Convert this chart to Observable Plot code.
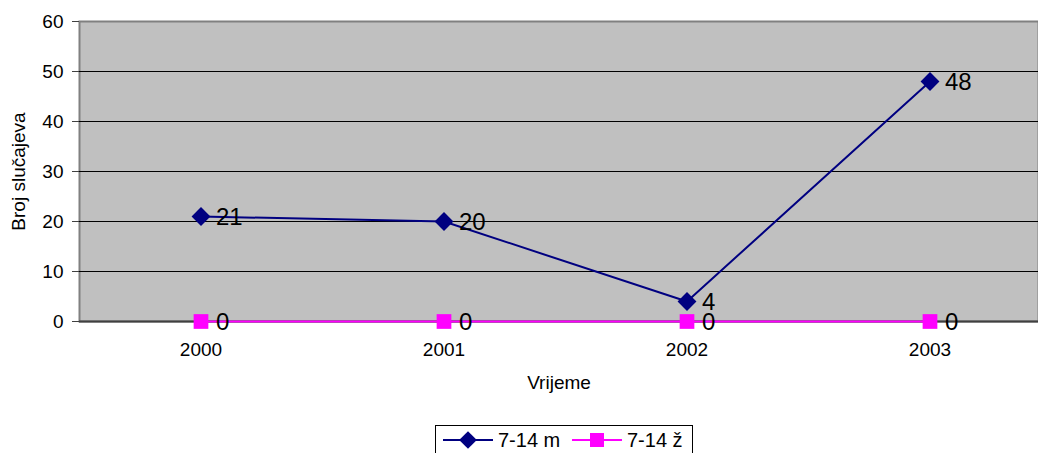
<!DOCTYPE html>
<html>
<head>
<meta charset="utf-8">
<script src="https://cdn.jsdelivr.net/npm/d3@7"></script>
<script src="https://cdn.jsdelivr.net/npm/@observablehq/plot@0.6"></script>
<style>
  html, body { margin: 0; padding: 0; background: white; overflow: hidden; }
  #wrap { position: relative; width: 1038px; height: 453px; font-family: "Liberation Sans", Arial, sans-serif; }
  #legend { position: absolute; left: 435px; top: 425px; width: 258px; height: 30px; border: 1px solid #000; box-sizing: border-box; background: white; }
</style>
</head>
<body>
<div id="wrap"></div>
<script>
const years = ["2000", "2001", "2002", "2003"];
const male = [21, 20, 4, 48];
const female = [0, 0, 0, 0];
const yTicks = [0, 10, 20, 30, 40, 50, 60];
const gridTicks = [10, 20, 30, 40, 50];
const seriesNames = ["7-14 m", "7-14 ž"];
const seriesColors = ["#000080", "#FF00FF"];

const maleData = years.map((y, i) => ({year: y, value: male[i]}));
const femaleData = years.map((y, i) => ({year: y, value: female[i]}));

const chart = Plot.plot({
  width: 1038,
  height: 418,
  marginLeft: 79,
  marginRight: 0,
  marginTop: 21,
  marginBottom: 97,
  style: {fontFamily: "'Liberation Sans', Arial, sans-serif", fontSize: "19px", background: "white", color: "#000", overflow: "visible"},
  x: {type: "band", domain: years, range: [79, 1051], padding: 0},
  y: {domain: [0, 60]},
  marks: [
    Plot.frame({fill: "#C0C0C0", stroke: "#808080", strokeWidth: 2}),
    Plot.ruleY(gridTicks, {stroke: "#000", strokeWidth: 1}),
    Plot.ruleY([0], {stroke: "#404040", strokeWidth: 2}),
    Plot.axisY({ticks: yTicks, tickSize: 7, tickPadding: 9, label: "Broj slučajeva", labelAnchor: "center", labelOffset: 68, labelArrow: "none", stroke: "#404040"}),
    Plot.axisX({tickSize: 0, tickPadding: 21, label: "Vrijeme", labelAnchor: "center", labelOffset: 67, labelArrow: "none"}),
    Plot.line(femaleData, {x: "year", y: "value", stroke: seriesColors[1], strokeWidth: 2}),
    Plot.dot(femaleData, {x: "year", y: "value", symbol: "square", r: 8.3, fill: seriesColors[1], stroke: null}),
    Plot.line(maleData, {x: "year", y: "value", stroke: seriesColors[0], strokeWidth: 2}),
    Plot.dot(maleData, {x: "year", y: "value", symbol: "diamond2", r: 8.5, fill: seriesColors[0], stroke: null}),
    Plot.text(maleData, {x: "year", y: "value", text: d => String(d.value), textAnchor: "start", dx: 15, dy: 1, fontSize: 24, fill: "#000"}),
    Plot.text(femaleData, {x: "year", y: "value", text: d => String(d.value), textAnchor: "start", dx: 15, dy: 1, fontSize: 24, fill: "#000"})
  ]
});
const wrap = document.getElementById("wrap");
wrap.appendChild(chart);

// Legend
const legend = document.createElement("div");
legend.id = "legend";
const ns = "http://www.w3.org/2000/svg";
const lsvg = document.createElementNS(ns, "svg");
lsvg.setAttribute("width", 256);
lsvg.setAttribute("height", 28);
lsvg.style.display = "block";
const items = [
  {x: 7, name: seriesNames[0], color: seriesColors[0], shape: "diamond"},
  {x: 136, name: seriesNames[1], color: seriesColors[1], shape: "square"}
];
items.forEach(it => {
  const cy = 14;
  const line = document.createElementNS(ns, "line");
  line.setAttribute("x1", it.x); line.setAttribute("x2", it.x + 50);
  line.setAttribute("y1", cy); line.setAttribute("y2", cy);
  line.setAttribute("stroke", it.color); line.setAttribute("stroke-width", 2);
  lsvg.appendChild(line);
  const sym = document.createElementNS(ns, "path");
  const gen = d3.symbol(it.shape === "diamond" ? d3.symbolDiamond2 : d3.symbolSquare, it.shape === "diamond" ? 200 : 196);
  sym.setAttribute("d", gen());
  sym.setAttribute("transform", `translate(${it.x + 25},${cy})`);
  sym.setAttribute("fill", it.color);
  lsvg.appendChild(sym);
  const t = document.createElementNS(ns, "text");
  t.setAttribute("x", it.x + 55); t.setAttribute("y", cy);
  t.setAttribute("dy", "0.35em");
  t.setAttribute("font-size", 20);
  t.setAttribute("font-family", "'Liberation Sans', Arial, sans-serif");
  t.textContent = it.name;
  lsvg.appendChild(t);
});
legend.appendChild(lsvg);
wrap.appendChild(legend);
</script>
</body>
</html>
